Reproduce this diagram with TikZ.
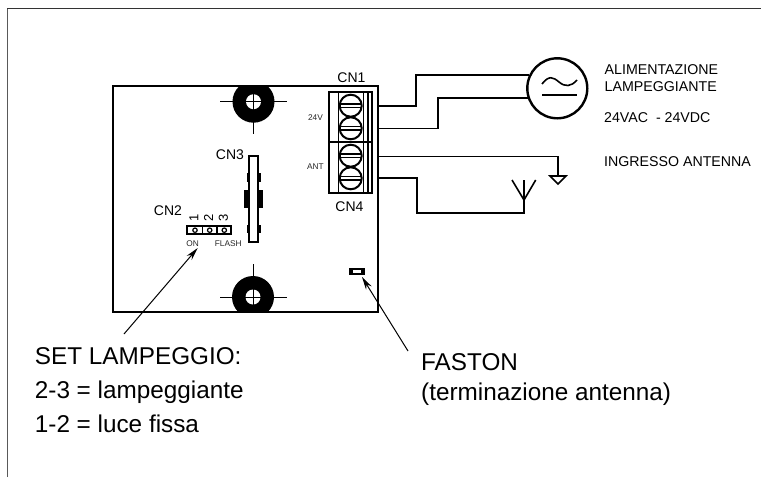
\documentclass[tikz,border=0pt]{standalone}
\usepackage{fontspec}
\setmainfont{Liberation Sans}
\usetikzlibrary{arrows.meta}

\begin{document}
\begin{tikzpicture}[x=1pt,y=-1pt,
	wire/.style={line width=1.6pt},
	edge/.style={line width=2pt},
	thin line/.style={line width=1pt},
	pointer/.style={line width=1pt,-{Stealth[length=13pt,width=6.5pt]}},
	big/.style={anchor=base west,inner sep=0pt,font=\fontsize{24.3}{26}\selectfont},
	mid/.style={font=\fontsize{14}{15}\selectfont},
	info/.style={anchor=base west,inner sep=0pt,font=\fontsize{14.2}{15}\selectfont},
	tiny/.style={font=\fontsize{8.3}{9}\selectfont,text=black!85}]
\useasboundingbox (0,0) rectangle (761,477);
\draw [line width=1.3pt,black!65] (7.5,477) -- (7.5,8.5);
\draw [line width=1.3pt,black!80] (7,8.5) -- (761,8.5);

\begin{scope}
	\clip (112,85.5) rectangle (378,312);
	\foreach \name/\px/\py in {holetop/253.5/101.7,holebot/253/297}
		\node [circle,fill=black,minimum size=42pt,inner sep=0pt] (\name) at (\px,\py) {};
\end{scope}
\node [draw,edge,minimum width=265pt,minimum height=226pt,inner sep=0pt] (board) at (245,198.7) {};
\foreach \name in {holetop,holebot}
	\node [circle,fill=white,minimum size=15pt,inner sep=0pt] (\name in) at (\name) {};
\draw [thin line] (220,101.7) -- (287,101.7) (253.5,94) -- (253.5,134);
\draw [thin line] (220,297) -- (287,297) (253,264) -- (253,305);

\node [draw,edge,minimum width=42.5pt,minimum height=101.5pt,inner sep=0pt] (block) at (350.5,142.5) {};
\draw [edge] (block.west |- 0,142.3) -- (block.east |- 0,142.3);
\draw [wire] (338.3,91.7) -- (338.3,193.3);
\draw [wire] (363.3,91.7) -- (363.3,193.3);
\draw [wire] (367.7,91.7) -- (367.7,193.3);
\foreach \name/\py in {sa/105.7,sb/128.3,sc/155.7,sd/178.3} {
	\node [draw,edge,circle,minimum size=22pt,inner sep=0pt,fill=white] (\name) at (350.7,\py) {};
	\draw [wire] (\name.west) ++(0,-1.7) -- ++(22,0);
	\draw [wire] (\name.west) ++(0,1.7) -- ++(22,0);
}

\node [draw,line width=2.4pt,circle,minimum size=60pt,inner sep=0pt] (acsource) at (557.3,88.3) {};
\draw [wire] (542,84) .. controls (549,75) and (553,77) .. (559,82) .. controls (565,87) and (571,87) .. (577,80);
\draw [wire] (542,95) -- (577,95);

\coordinate (w1) at (378,106);
\coordinate (w2) at (378,128.5);
\coordinate (w3) at (378,156.5);
\coordinate (w4) at (378,178);
\coordinate (gnd) at (558,176);
\coordinate (ant) at (524,180);
\draw [wire] (w1) -- ++(38,0) |- (acsource.155);
\draw [wire] (w2) -- ++(60,0) |- (acsource.198);
\draw [wire] (w3) -| (gnd);
\draw [wire] (w4) -- ++(39,0) |- (524,213) -- (ant);
\draw [wire] (gnd) ++(-8,0) -- ++(16,0) -- (558,184) -- cycle;
\draw [wire] (512,180) -- (524,200) -- (535.7,180);

\node [draw,edge,minimum width=9.3pt,minimum height=86pt,inner sep=0pt] (cn3bar) at (253.7,198.7) {};
\foreach \py/\hgt in {177.2/9,229/8.5} {
	\fill (246.7,\py-\hgt/2) rectangle (249,\py+\hgt/2);
	\fill (258.3,\py-\hgt/2) rectangle (260.7,\py+\hgt/2);
}
\fill (244.3,190) rectangle (249,208);
\fill (258.3,190) rectangle (263.3,208);

\node [draw,edge,minimum width=43.7pt,minimum height=8.3pt,inner sep=0pt] (jumper) at (209.2,230.2) {};
\draw [wire] (202.3,226) -- (202.3,234.3) (217,226) -- (217,234.3);
\foreach \name/\px/\num in {pa/195/1,pb/209.7/2,pc/224.3/3} {
	\node [draw,line width=1.2pt,circle,minimum size=4.4pt,inner sep=0pt] (\name) at (\px,230.2) {};
	\node [rotate=90,inner sep=0pt,font=\fontsize{13}{14}\selectfont] (num\num) at (\px-1,218.3) {\num};
}

\node [fill=black,minimum width=16pt,minimum height=7pt,inner sep=0pt] (faston) at (357,271.5) {};
\node [fill=white,minimum width=8pt,minimum height=2.2pt,inner sep=0pt] (faston in) at (faston) {};

\node [mid] (cn1) at (351.5,77.3) {CN1};
\node [mid] (cn4) at (349.5,206.7) {CN4};
\node [mid] (cn3) at (230,155) {CN3};
\node [mid] (cn2) at (168,210.7) {CN2};
\node [tiny] (v24) at (315.5,117.7) {24V};
\node [tiny] (vant) at (315.5,167) {ANT};
\node [tiny] (on) at (192.7,243.7) {ON};
\node [tiny] (flash) at (228.3,243.5) {FLASH};

\node [info] (alim) at (604.5,74) {ALIMENTAZIONE};
\node [info] (lamp) at (604.5,91.7) {LAMPEGGIANTE};
\node [info] (volt) at (604,122.3) {24VAC\ \ - 24VDC};
\node [info] (ingr) at (604,166) {INGRESSO ANTENNA};

\node [big] (set) at (34.7,364) {SET LAMPEGGIO:};
\node [big] (set a) at (34.7,398.3) {2-3 = lampeggiante};
\node [big] (set b) at (34.7,432.7) {1-2 = luce fissa};
\node [big] (fast) at (421,370) {FASTON};
\node [big] (term) at (421,400) {(terminazione antenna)};

\coordinate (tail a) at (124,334);
\coordinate (tail b) at (408,351);
\coordinate (tip a) at (197.7,248);
\coordinate (tip b) at (362,277);
\draw [pointer] (tail a) -- (tip a);
\draw [pointer] (tail b) -- (tip b);
\end{tikzpicture}
\end{document}
